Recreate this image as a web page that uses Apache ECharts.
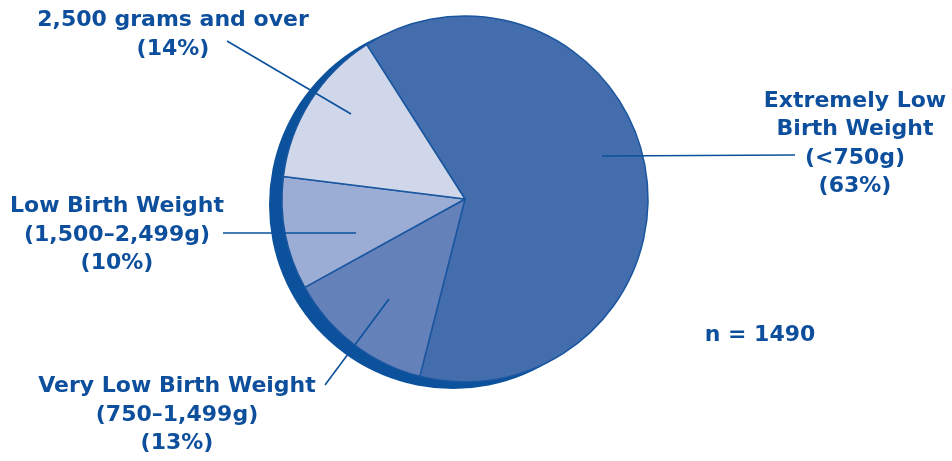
<!DOCTYPE html>
<html>
<head>
<meta charset="utf-8">
<script src="https://cdn.jsdelivr.net/npm/echarts@6/dist/echarts.min.js"></script>
<style>
  html, body { margin: 0; padding: 0; background: #ffffff; }
  #chart { width: 952px; height: 461px; }
</style>
</head>
<body>
<div id="chart"></div>
<script>
// Birth-weight groups, in clockwise order from the top of the pie
const categories = [
  'Extremely Low\nBirth Weight\n(<750g)',
  'Very Low Birth Weight\n(750\u20131,499g)',
  'Low Birth Weight\n(1,500\u20132,499g)',
  '2,500 grams and over'
];
const shares = [63, 13, 10, 14];   // percent of infants
const sampleSize = 1490;

const sliceColors = ['#436dac', '#6581ba', '#9cadd5', '#d0d7ea'];
const inkBlue = '#0d4f9c';
const lineBlue = '#0b519c';

const CX = 465, CY = 199, R = 183;

// label anchors and leader lines (pixel layout)
const labelLayouts = [
  { x: 855, y: 144, line: [[602, 156], [795, 155]] },
  { x: 177, y: 415, line: [[389, 299], [325, 385]] },
  { x: 117, y: 235, line: [[356, 233], [223, 233]] },
  { x: 173, y: 35,  line: [[351, 114], [227, 41]] }
];

const chart = echarts.init(document.getElementById('chart'), null, { renderer: 'canvas' });

// leader lines sit on top of the slices
const leaderLines = labelLayouts.map(L => ({
  type: 'polyline',
  z: 100,
  silent: true,
  shape: { points: L.line },
  style: { stroke: lineBlue, lineWidth: 1.6, fill: null }
}));

chart.setOption({
  animation: false,
  backgroundColor: '#ffffff',
  textStyle: { fontFamily: 'DejaVu Sans' },
  graphic: leaderLines.concat([{
    type: 'text',
    x: 760, y: 335,
    z: 100,
    style: {
      text: 'n = ' + sampleSize,
      fill: inkBlue,
      font: 'bold 22px "DejaVu Sans"',
      align: 'center',
      verticalAlign: 'middle'
    }
  }]),
  series: [
    {
      // dark rim peeking out below-left of the pie
      type: 'pie',
      silent: true,
      z: 1,
      center: [CX - 12, CY + 6],
      radius: R + 1,
      label: { show: false },
      labelLine: { show: false },
      itemStyle: { color: '#0b519c', borderWidth: 0 },
      emphasis: { disabled: true },
      data: [{ value: 1, name: '' }]
    },
    {
      type: 'pie',
      z: 2,
      center: [CX, CY],
      radius: R,
      startAngle: 122.5,
      clockwise: true,
      avoidLabelOverlap: false,
      emphasis: { disabled: true },
      itemStyle: { borderColor: '#1a56a0', borderWidth: 1.5 },
      label: {
        show: true,
        position: 'outside',
        color: inkBlue,
        fontFamily: 'DejaVu Sans',
        fontWeight: 'bold',
        fontSize: 22,
        lineHeight: 28.5,
        align: 'center',
        formatter: p => p.name + '\n(' + p.value + '%)'
      },
      labelLine: { show: false },
      labelLayout: p => {
        const L = labelLayouts[p.dataIndex];
        return { x: L.x, y: L.y, align: 'center', verticalAlign: 'middle' };
      },
      data: categories.map((name, i) => ({
        name: name,
        value: shares[i],
        itemStyle: { color: sliceColors[i] }
      }))
    }
  ]
});
</script>
</body>
</html>
